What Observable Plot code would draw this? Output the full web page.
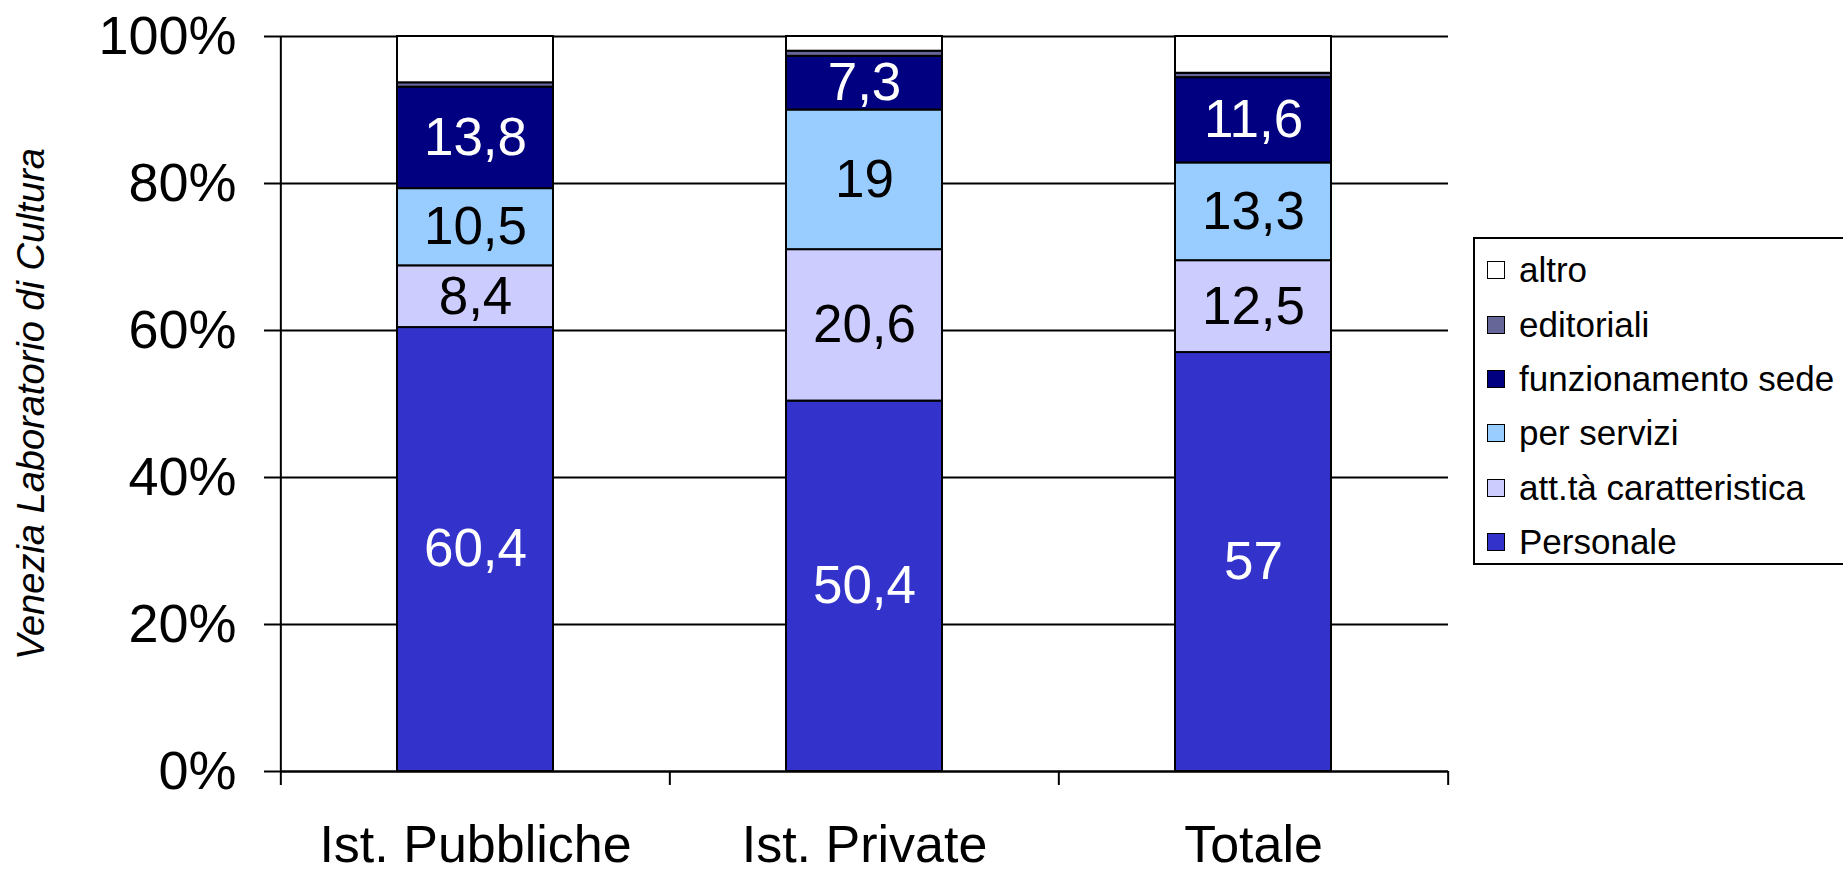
<!DOCTYPE html>
<html>
<head>
<meta charset="utf-8">
<script src="https://cdn.jsdelivr.net/npm/d3@7"></script>
<script src="https://cdn.jsdelivr.net/npm/@observablehq/plot@0.6"></script>
<style>
  html, body { margin: 0; padding: 0; background: #fff; overflow: hidden; }
  #wrap { position: relative; width: 1843px; height: 874px; font-family: "Liberation Sans", Arial, sans-serif; }
  #legend { position: absolute; left: 1473px; top: 237px; width: 420px; height: 328px; box-sizing: border-box;
            border: 2px solid #000; background: #fff; padding-top: 4px; }
  .row { height: 54.4px; display: flex; align-items: center; font-size: 35px; color: #000; }
  .sw { width: 16px; height: 16px; border: 1.5px solid #000; margin-left: 12px; margin-right: 14px; flex: none; }
</style>
</head>
<body>
<div id="wrap"></div>
<script>
const categories = ["Ist. Pubbliche", "Ist. Private", "Totale"];
const seriesNames = ["Personale", "att.tà caratteristica", "per servizi", "funzionamento sede", "editoriali", "altro"];
const personale = [60.4, 50.4, 57];
const attivita = [8.4, 20.6, 12.5];
const perServizi = [10.5, 19, 13.3];
const funzionamento = [13.8, 7.3, 11.6];
const editoriali = [0.6, 0.7, 0.6];
const altro = [6.3, 2.0, 5.0];
const seriesColors = ["#3333CC", "#CCCCFF", "#99CCFF", "#000080", "#666699", "#FFFFFF"];
const yTicks = [0, 20, 40, 60, 80, 100];
const whiteLabelSeries = ["Personale", "funzionamento sede"];
const blackLabelSeries = ["att.tà caratteristica", "per servizi"];

const seriesValues = [personale, attivita, perServizi, funzionamento, editoriali, altro];
const data = [];
seriesNames.forEach((s, si) => {
  categories.forEach((c, ci) => data.push({series: s, cat: c, value: seriesValues[si][ci]}));
});

const fmt = v => String(v).replace(".", ",");

const W = 1843, H = 874, mL = 280, mR = 395, mT = 36, mB = 103;
const step = (W - mL - mR) / categories.length;
const font = "'Liberation Sans', Arial, sans-serif";

const chart = Plot.plot({
  width: W, height: H,
  marginLeft: mL, marginRight: mR, marginTop: mT, marginBottom: mB,
  style: {fontFamily: font, background: "white", color: "black"},
  x: {domain: categories, paddingInner: 0.6, paddingOuter: 0.3},
  y: {domain: [0, 100]},
  color: {domain: seriesNames, range: seriesColors},
  marks: [
    Plot.gridY(yTicks, {stroke: "black", strokeOpacity: 1, strokeWidth: 2}),
    Plot.barY(data, {x: "cat", y: "value", fill: "series", stroke: "black", strokeWidth: 2}),
    Plot.text(data, Plot.stackY({x: "cat", y: "value",
      text: d => whiteLabelSeries.includes(d.series) ? fmt(d.value) : null,
      fill: "white", fontSize: 53})),
    Plot.text(data, Plot.stackY({x: "cat", y: "value",
      text: d => blackLabelSeries.includes(d.series) ? fmt(d.value) : null,
      fill: "black", fontSize: 53})),
    Plot.ruleY([0], {stroke: "black", strokeWidth: 2}),
    Plot.ruleX(categories, {x: d => d, dx: -step / 2,
      y1: d => d === categories[0] ? 100 : 0, y2: -1.9, stroke: "black", strokeWidth: 2}),
    Plot.ruleX(categories.slice(-1), {x: d => d, dx: step / 2, y1: 0, y2: -1.9, stroke: "black", strokeWidth: 2}),
    Plot.axisY({ticks: yTicks, tickSize: 16, tickPadding: 28, tickFormat: d => d + "%",
      fontSize: 54, strokeWidth: 2, label: null}),
    Plot.axisX({tickSize: 0, tickPadding: 54, fontSize: 52, label: null}),
    Plot.text(["Venezia Laboratorio di Cultura"], {frameAnchor: "left", textAnchor: "middle",
      dx: -249, rotate: -90, fontSize: 38, fontStyle: "italic", fill: "black"})
  ]
});

const wrap = document.getElementById("wrap");
wrap.appendChild(chart);

const legend = document.createElement("div");
legend.id = "legend";
seriesNames.slice().reverse().forEach(s => {
  const row = document.createElement("div");
  row.className = "row";
  const sw = document.createElement("span");
  sw.className = "sw";
  sw.style.background = seriesColors[seriesNames.indexOf(s)];
  const t = document.createElement("span");
  t.textContent = s;
  row.appendChild(sw);
  row.appendChild(t);
  legend.appendChild(row);
});
wrap.appendChild(legend);
</script>
</body>
</html>
